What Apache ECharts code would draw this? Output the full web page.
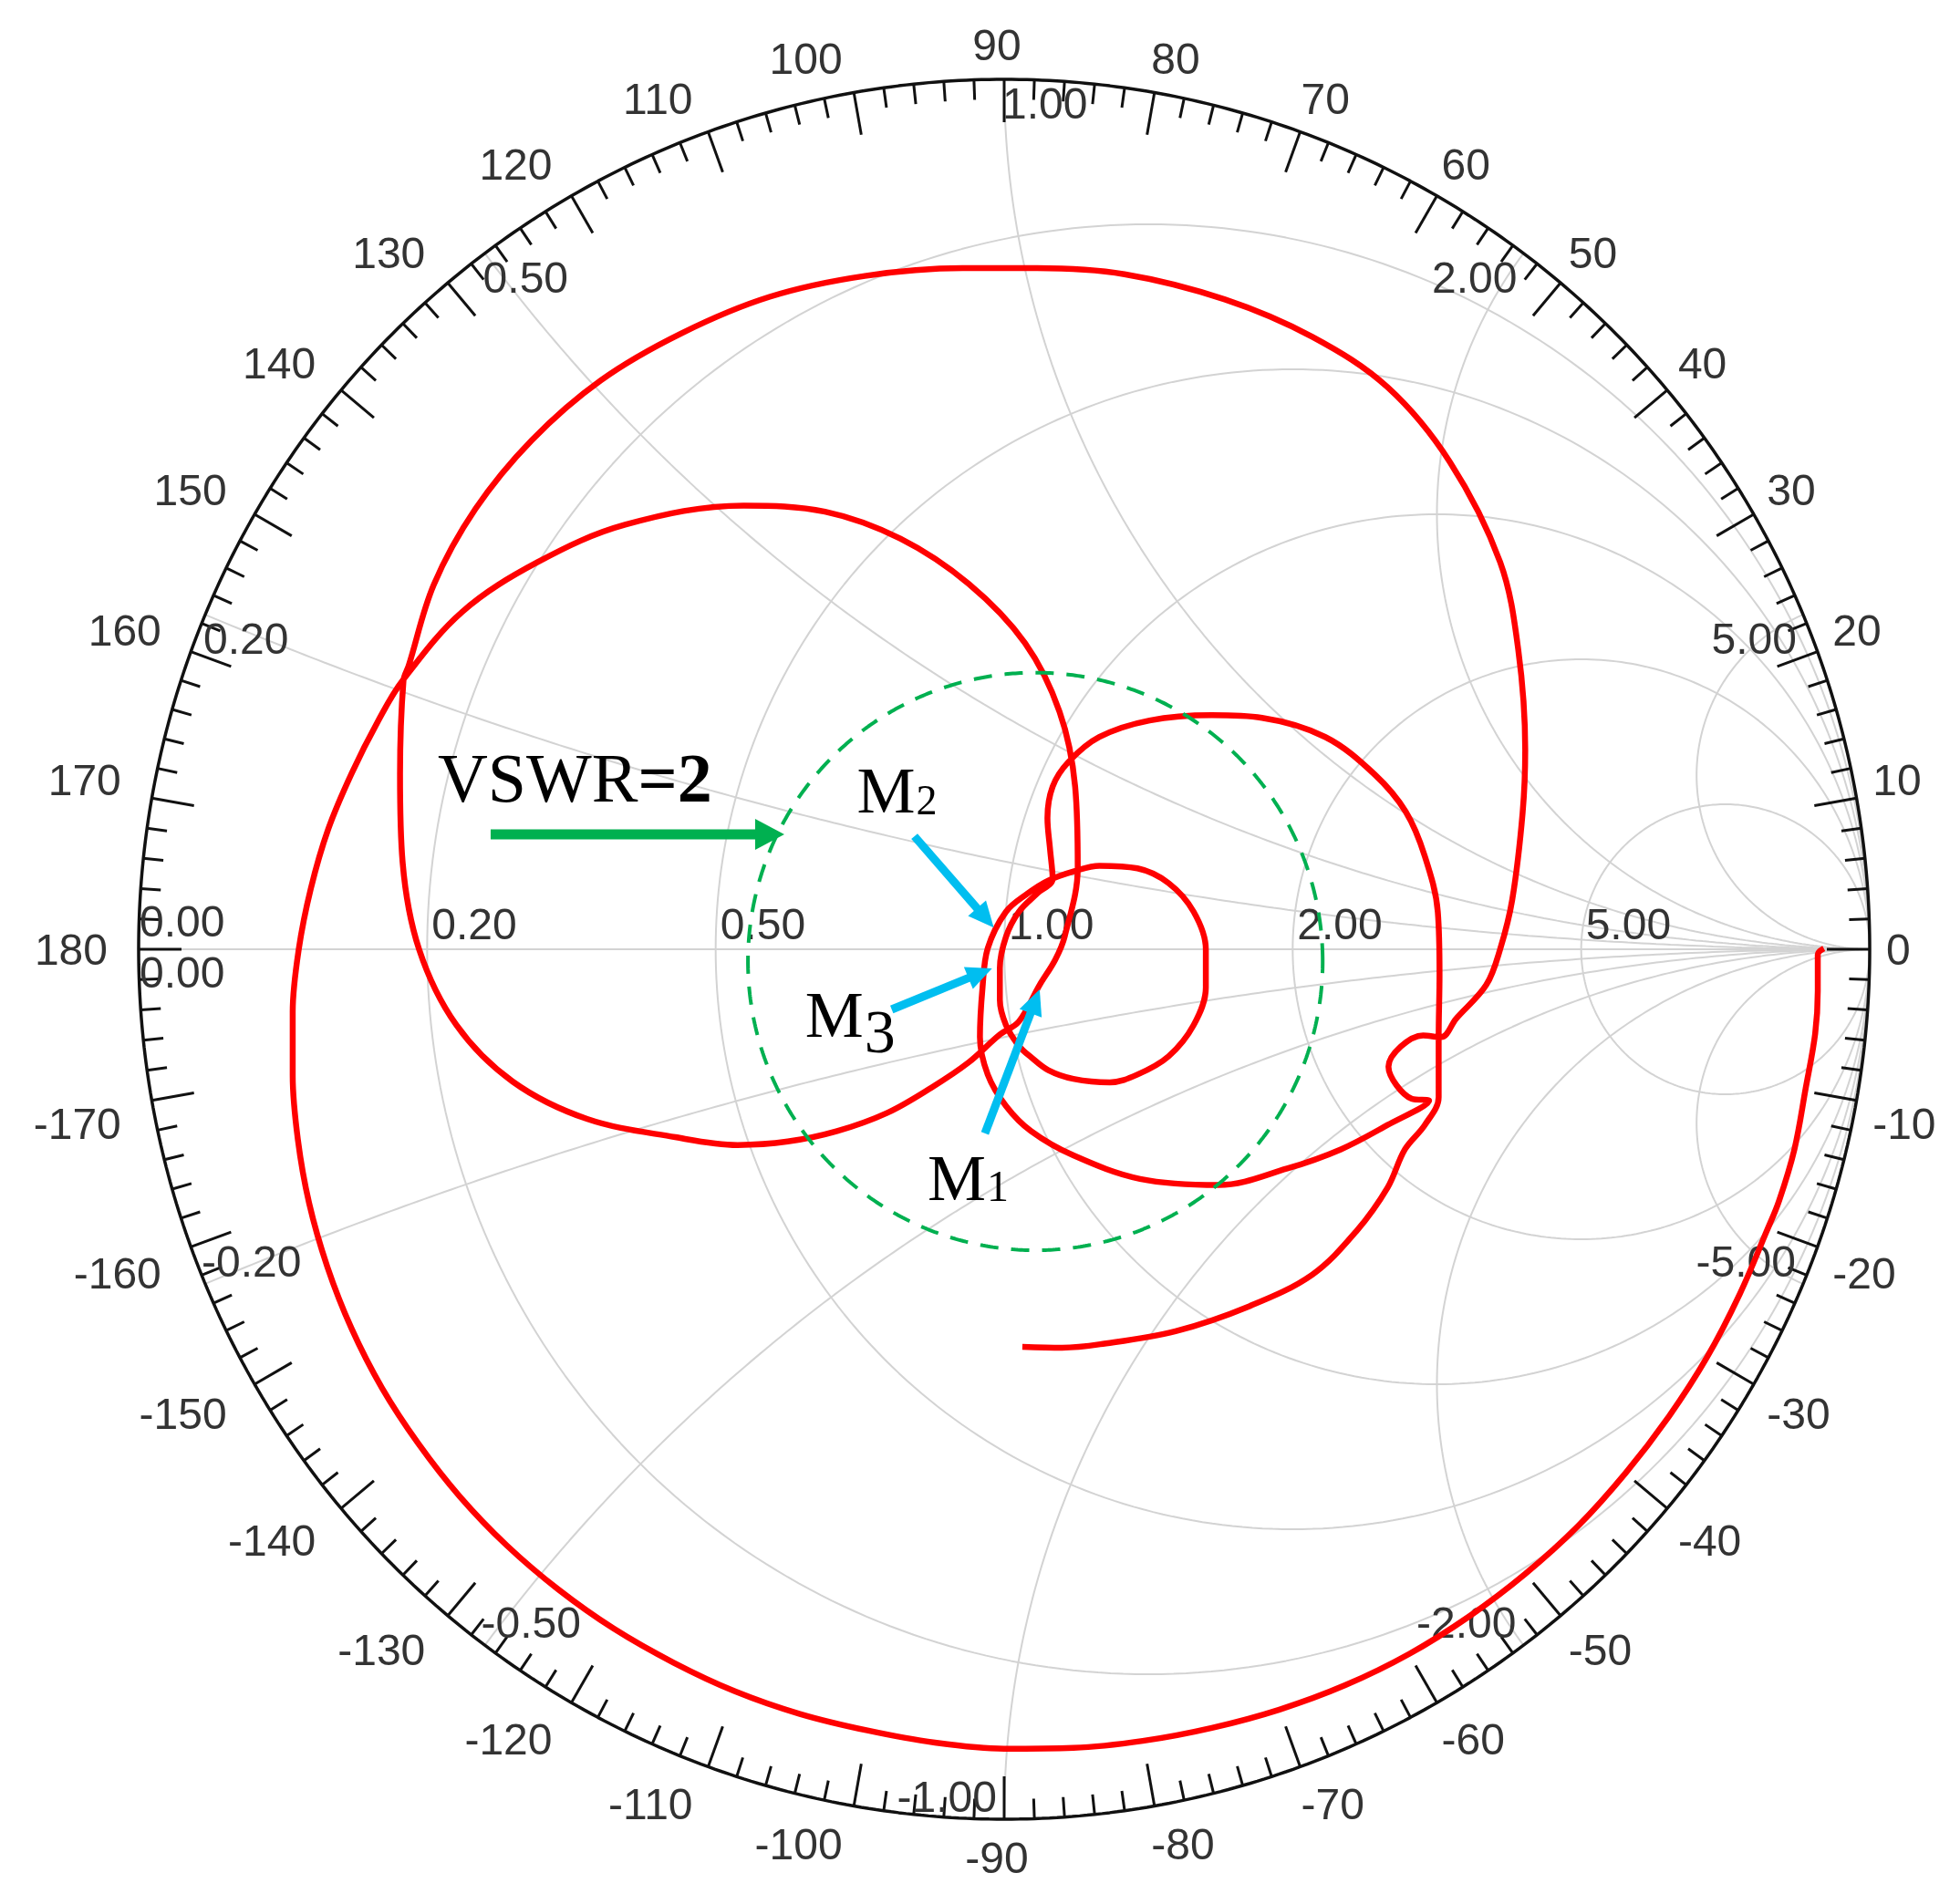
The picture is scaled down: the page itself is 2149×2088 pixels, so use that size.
<!DOCTYPE html>
<html>
<head>
<meta charset="utf-8">
<title>Smith chart</title>
<script src="https://cdn.jsdelivr.net/npm/echarts@6.0.0/dist/echarts.min.js"></script>
<style>
html,body{margin:0;padding:0;background:#ffffff;}
#chart{width:2149px;height:2088px;}
</style>
</head>
<body>
<div id="chart"></div>
<script>
// ---------------- data (reflection coefficient  Γ = re + j·im) ----------------
const resistanceValues = [0.2, 0.5, 1, 2, 5];
const reactanceValues = [0.2, 0.5, 1, 2, 5];
const angleLabelValues = [0, 10, 20, 30, 40, 50, 60, 70, 80, 90, 100, 110, 120, 130, 140, 150, 160, 170, 180,
  -170, -160, -150, -140, -130, -120, -110, -100, -90, -80, -70, -60, -50, -40, -30, -20, -10];

const s11Trace = [
  [0.947, 0.001], [0.940, -0.006], [0.940, -0.048], [0.937, -0.097], [0.926, -0.160], [0.913, -0.230],
  [0.895, -0.290], [0.881, -0.324], [0.850, -0.396], [0.812, -0.469], [0.768, -0.537], [0.718, -0.602],
  [0.663, -0.663], [0.602, -0.718], [0.537, -0.767], [0.468, -0.810], [0.394, -0.846], [0.318, -0.874],
  [0.240, -0.895], [0.160, -0.910], [0.080, -0.918], [0.000, -0.919], [-0.080, -0.912], [-0.158, -0.898],
  [-0.236, -0.879], [-0.311, -0.853], [-0.382, -0.820], [-0.451, -0.781], [-0.515, -0.736], [-0.575, -0.685],
  [-0.629, -0.629], [-0.677, -0.568], [-0.719, -0.504], [-0.754, -0.436], [-0.782, -0.365], [-0.803, -0.292],
  [-0.816, -0.219], [-0.822, -0.145], [-0.822, -0.072], [-0.815, 0.000], [-0.801, 0.070], [-0.781, 0.138],
  [-0.754, 0.202], [-0.723, 0.263], [-0.695, 0.309],
  [-0.626, 0.388], [-0.539, 0.445], [-0.438, 0.488], [-0.301, 0.510], [-0.207, 0.503], [-0.120, 0.472],
  [-0.041, 0.420], [0.024, 0.352], [0.064, 0.273], [0.082, 0.187], [0.085, 0.093], [0.070, 0.015],
  [0.059, -0.012], [0.041, -0.041], [0.017, -0.083], [-0.005, -0.098], [-0.041, -0.130], [-0.084, -0.159],
  [-0.135, -0.188], [-0.193, -0.209], [-0.250, -0.221], [-0.308, -0.225], [-0.380, -0.216], [-0.482, -0.195],
  [-0.568, -0.152], [-0.633, -0.087], [-0.676, 0.000], [-0.695, 0.100], [-0.698, 0.201], [-0.694, 0.309],
  [-0.688, 0.326], [-0.659, 0.419], [-0.611, 0.506], [-0.546, 0.585], [-0.466, 0.654], [-0.373, 0.708],
  [-0.271, 0.750], [-0.161, 0.774], [-0.048, 0.783], [0.038, 0.783],
  [0.139, 0.776], [0.255, 0.747], [0.356, 0.704],
  [0.443, 0.646], [0.515, 0.560], [0.573, 0.445], [0.594, 0.344], [0.602, 0.229], [0.599, 0.157],
  [0.587, 0.057], [0.573, 0.000], [0.557, -0.041], [0.522, -0.080], [0.505, -0.101], [0.484, -0.099],
  [0.444, -0.135], [0.471, -0.172], [0.491, -0.174],
  [0.443, -0.202], [0.389, -0.230], [0.327, -0.252], [0.248, -0.271], [0.157, -0.264], [0.080, -0.237],
  [0.031, -0.209], [0.002, -0.180], [-0.019, -0.144], [-0.028, -0.101], [-0.025, -0.044], [-0.019, 0.001],
  [0.002, 0.043], [0.027, 0.064], [0.051, 0.079], [0.082, 0.090], [0.110, 0.096],
  [0.154, 0.093], [0.190, 0.076], [0.219, 0.043], [0.233, 0.000], [0.233, -0.044], [0.219, -0.087],
  [0.190, -0.123], [0.154, -0.144], [0.122, -0.153], [0.080, -0.149], [0.051, -0.139], [0.031, -0.124],
  [0.017, -0.111], [0.002, -0.087], [-0.005, -0.058], [-0.005, -0.022], [0.002, 0.014], [0.017, 0.043],
  [0.038, 0.064], [0.056, 0.081],
  [0.053, 0.115], [0.050, 0.151], [0.056, 0.187], [0.074, 0.215], [0.110, 0.244], [0.168, 0.263],
  [0.240, 0.269], [0.298, 0.266], [0.371, 0.244], [0.428, 0.201], [0.464, 0.158], [0.486, 0.107],
  [0.501, 0.043], [0.503, -0.029], [0.502, -0.101], [0.502, -0.170], [0.486, -0.202], [0.463, -0.230],
  [0.443, -0.274], [0.407, -0.324], [0.356, -0.374], [0.284, -0.410], [0.198, -0.439], [0.111, -0.454],
  [0.067, -0.458], [0.021, -0.457]
];

const vswrLabel = 'VSWR=2';
const vswrCircleCenter = [0.036, -0.014];
const vswrCircleRadius = 0.332;
const vswrArrowTip = [-0.254, 0.132];

const markerNames = ['M1', 'M2', 'M3'];
const markerPoints = [[0.041, -0.046], [-0.012, 0.025], [-0.014, -0.022]];

// ---------------- presentation ----------------
const D = Math.PI / 180;
const FONT_SANS = '"Liberation Sans", Arial, sans-serif';
const FONT_SERIF = '"Liberation Serif", "Times New Roman", serif';
const GRID_COLOR = '#d3d3d3';
const LABEL_COLOR = '#333333';
const RED = '#ff0000';
const GREEN = '#00b050';
const CYAN = '#00bef0';

function resistanceCircle(r) {
  const c = r / (1 + r), R = 1 / (1 + r), pts = [];
  for (let i = 0; i <= 360; i++) pts.push([c + R * Math.cos(i * D), R * Math.sin(i * D)]);
  return pts;
}
function reactanceArc(x) {
  const s = x > 0 ? 1 : -1, ax = Math.abs(x);
  const cy = 1 / ax, R = 1 / ax;
  const px = (ax * ax - 1) / (ax * ax + 1), py = 2 * ax / (ax * ax + 1);
  let aP = Math.atan2(py - cy, px - 1);
  const a0 = -Math.PI / 2;
  if (aP > a0) aP -= 2 * Math.PI;
  const pts = [], n = 240;
  for (let i = 0; i <= n; i++) {
    const a = a0 + (aP - a0) * i / n;
    pts.push([1 + R * Math.cos(a), s * (cy + R * Math.sin(a))]);
  }
  return pts;
}
function circlePts(c, r) {
  const pts = [];
  for (let i = 0; i <= 720; i++) pts.push([c[0] + r * Math.cos(i * 0.5 * D), c[1] + r * Math.sin(i * 0.5 * D)]);
  return pts;
}
function gridLine(data) {
  return { type: 'line', data, symbol: 'none', showSymbol: false, silent: true, clip: false, smooth: false,
    lineStyle: { color: GRID_COLOR, width: 2 }, z: 1, animation: false };
}
function arrowShapes(tail, tip, color, shaftW, headL, headW) {
  const dx = tip[0] - tail[0], dy = tip[1] - tail[1], len = Math.hypot(dx, dy);
  const ux = dx / len, uy = dy / len, nx = -uy, ny = ux;
  const bx = tip[0] - ux * headL, by = tip[1] - uy * headL;
  return [
    { type: 'line', shape: { x1: tail[0], y1: tail[1], x2: bx + ux * 3, y2: by + uy * 3 },
      style: { stroke: color, lineWidth: shaftW, lineCap: 'butt' } },
    { type: 'polygon', shape: { points: [[tip[0], tip[1]], [bx + nx * headW / 2, by + ny * headW / 2], [bx - nx * headW / 2, by - ny * headW / 2]] },
      style: { fill: color } }
  ];
}

const series = [];
resistanceValues.forEach(r => series.push(gridLine(resistanceCircle(r))));
reactanceValues.forEach(x => { series.push(gridLine(reactanceArc(x))); series.push(gridLine(reactanceArc(-x))); });
series.push(gridLine([[-1, 0], [1, 0]]));

// outer ring
series.push({ type: 'line', data: circlePts([0, 0], 1), symbol: 'none', silent: true, clip: false,
  lineStyle: { color: '#111', width: 3.5 }, z: 3, animation: false });

// ticks every 2 degrees
const tickData = [];
for (let a = -178; a <= 180; a += 2) tickData.push([Math.cos(a * D), Math.sin(a * D), a]);
series.push({ type: 'custom', data: tickData, encode: { x: 0, y: 1 }, z: 3, silent: true, clip: false,
  renderItem(params, api) {
    const p = api.coord([api.value(0), api.value(1)]), c = api.coord([0, 0]);
    const a = api.value(2), L = (a % 10 === 0) ? 47 : 22;
    const dx = c[0] - p[0], dy = c[1] - p[1], len = Math.hypot(dx, dy);
    return { type: 'line', shape: { x1: p[0], y1: p[1], x2: p[0] + dx / len * L, y2: p[1] + dy / len * L },
      style: { stroke: '#111', lineWidth: 3 } };
  } });

// angle labels
const angleLabelData = angleLabelValues.map(a => [Math.cos(a * D), Math.sin(a * D), a]);
series.push({ type: 'custom', data: angleLabelData, encode: { x: 0, y: 1 }, z: 4, silent: true, clip: false,
  renderItem(params, api) {
    const a = api.value(2), rad = a * D;
    const c = api.coord([0, 0]);
    const ex = api.coord([1, 0])[0] - c[0], ey = c[1] - api.coord([0, 1])[1];
    const co = Math.cos(rad), s = Math.sin(rad);
    const ax = c[0] + ex * (-8 + 975 * co) / 949;
    const ay = c[1] + ey * (1 - 975 * s) / 954;
    let y;
    if (Math.abs(s) < 1e-6) y = ay + 3; else if (s > 0) y = ay - 14; else y = ay + 24;
    const align = co > 1e-6 ? 'left' : (co < -1e-6 ? 'right' : 'center');
    return { type: 'text', x: ax, y: y,
      style: { text: String(a), fill: LABEL_COLOR, fontSize: 48, fontFamily: FONT_SANS, align, verticalAlign: 'middle' } };
  } });

// grid value labels
const gridLabelData = [], gridLabelMeta = [];
resistanceValues.forEach(r => {
  gridLabelData.push([(r - 1) / (r + 1), 0]);
  gridLabelMeta.push({ text: r.toFixed(2), align: 'left', dx: 5, dy: -24 });
});
gridLabelData.push([-1, 0]); gridLabelMeta.push({ text: (0).toFixed(2), align: 'left', dx: 1, dy: -27 });
gridLabelData.push([-1, 0]); gridLabelMeta.push({ text: (0).toFixed(2), align: 'left', dx: 1, dy: 29 });
reactanceValues.forEach(x => {
  const px = (x * x - 1) / (x * x + 1), py = 2 * x / (x * x + 1);
  gridLabelData.push([px, py]);
  gridLabelMeta.push({ text: x.toFixed(2), align: x <= 1 ? 'left' : 'right', dx: x <= 1 ? -2 : -7, dy: 30 });
  gridLabelData.push([px, -py]);
  gridLabelMeta.push({ text: (-x).toFixed(2), align: x < 1 ? 'left' : 'right', dx: x < 1 ? -4 : -8, dy: -21 });
});
series.push({ type: 'custom', data: gridLabelData, encode: { x: 0, y: 1 }, z: 4, silent: true, clip: false,
  renderItem(params, api) {
    const m = gridLabelMeta[params.dataIndex];
    const p = api.coord([api.value(0), api.value(1)]);
    return { type: 'text', x: p[0] + m.dx, y: p[1] + m.dy,
      style: { text: m.text, fill: LABEL_COLOR, fontSize: 48, fontFamily: FONT_SANS, align: m.align, verticalAlign: 'middle' } };
  } });

// S11 trace
series.push({ type: 'line', name: 'S11', data: s11Trace, symbol: 'none', showSymbol: false, smooth: 0.35, clip: false,
  silent: true, lineStyle: { color: RED, width: 6.5, join: 'round' }, z: 5, animation: false });

// VSWR = 2 circle
series.push({ type: 'line', data: circlePts(vswrCircleCenter, vswrCircleRadius), symbol: 'none', silent: true, clip: false,
  lineStyle: { color: GREEN, width: 4, type: [20, 14] }, z: 6, animation: false });

// VSWR annotation
series.push({ type: 'custom', data: [vswrArrowTip], encode: { x: 0, y: 1 }, z: 7, silent: true, clip: false,
  renderItem(params, api) {
    const tip = api.coord([api.value(0), api.value(1)]);
    const tail = [tip[0] - 322, tip[1]];
    const children = arrowShapes(tail, tip, GREEN, 11, 32, 34);
    children.push({ type: 'text', x: tip[0] - 380, y: tip[1] - 56,
      style: { text: '{a|VSWR}{b|=2}', align: 'left', verticalAlign: 'middle',
        rich: { a: { fontSize: 76, fontFamily: FONT_SERIF, fill: '#000' },
                b: { fontSize: 76, fontFamily: FONT_SERIF, fontWeight: 'bold', fill: '#000' } } } });
    return { type: 'group', children };
  } });

// markers
const MARKER_LAYOUT = [
  { tail: [-60, 158], label: [-123, 212] },
  { tail: [-87, -100], label: [-150, -145] },
  { tail: [-110, 45], label: [-205, 56] }
];
const DIGIT_STYLE = { '1': { size: 48, drop: 0 }, '2': { size: 46, drop: 0 }, '3': { size: 68, drop: 17 } };
series.push({ type: 'custom', data: markerPoints, encode: { x: 0, y: 1 }, z: 8, silent: true, clip: false,
  renderItem(params, api) {
    const i = params.dataIndex, lay = MARKER_LAYOUT[i];
    const tip = api.coord([api.value(0), api.value(1)]);
    const tail = [tip[0] + lay.tail[0], tip[1] + lay.tail[1]];
    const children = arrowShapes(tail, tip, CYAN, 9, 28, 26);
    const lx = tip[0] + lay.label[0], ly = tip[1] + lay.label[1];
    const name = markerNames[i];
    const letter = name.charAt(0), digit = name.slice(1);
    const ds = DIGIT_STYLE[digit] || { size: 46, drop: 0 };
    const baseline = ly + 0.331 * 72;
    children.push({ type: 'text', x: lx, y: ly,
      style: { text: letter, fill: '#000', fontSize: 72, fontFamily: FONT_SERIF, align: 'left', verticalAlign: 'middle' } });
    children.push({ type: 'text', x: lx + 0.889 * 72 + 1, y: baseline + ds.drop - 0.3375 * ds.size,
      style: { text: digit, fill: '#000', fontSize: ds.size, fontFamily: FONT_SERIF, align: 'left', verticalAlign: 'middle' } });
    return { type: 'group', children };
  } });

const chart = echarts.init(document.getElementById('chart'), null, { renderer: 'canvas', width: 2149, height: 2088 });
chart.setOption({
  animation: false,
  backgroundColor: '#ffffff',
  grid: { left: 152, top: 87, width: 1898, height: 1908, containLabel: false, show: false },
  xAxis: { type: 'value', min: -1, max: 1, show: false },
  yAxis: { type: 'value', min: -1, max: 1, show: false },
  tooltip: { show: false },
  series
});
</script>
</body>
</html>
